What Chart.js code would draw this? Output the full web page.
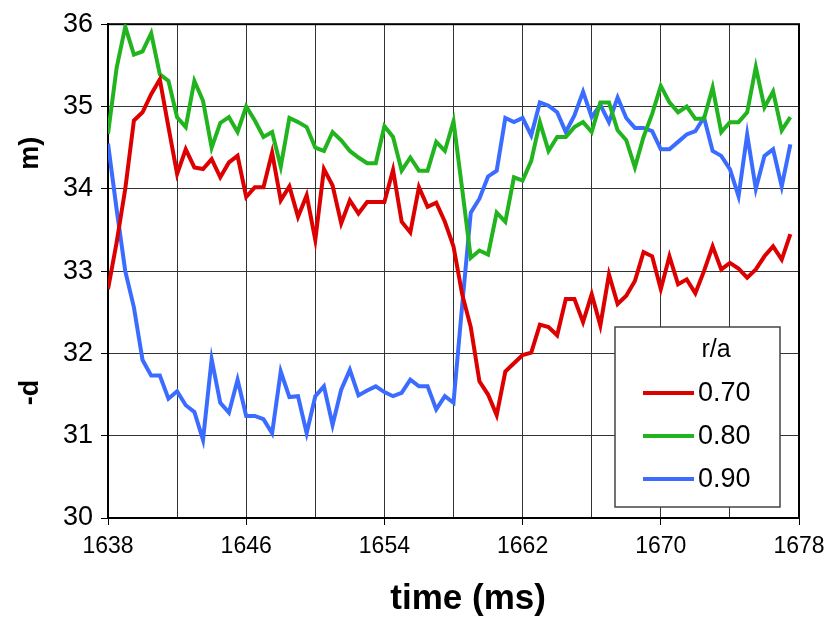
<!DOCTYPE html>
<html>
<head>
<meta charset="utf-8">
<title>-d vs time</title>
<script src="https://cdn.jsdelivr.net/npm/chart.js@4.4.0/dist/chart.umd.min.js"></script>
<style>
  html, body { margin: 0; padding: 0; background: #fff; }
</style>
</head>
<body>
<canvas id="grafica" width="837" height="618"></canvas>
<script>
// Tiempos de muestreo (ms), cada 0.5 ms
const tiempos = [
  1638, 1638.5, 1639, 1639.5, 1640, 1640.5, 1641, 1641.5, 1642, 1642.5,
  1643, 1643.5, 1644, 1644.5, 1645, 1645.5, 1646, 1646.5, 1647, 1647.5,
  1648, 1648.5, 1649, 1649.5, 1650, 1650.5, 1651, 1651.5, 1652, 1652.5,
  1653, 1653.5, 1654, 1654.5, 1655, 1655.5, 1656, 1656.5, 1657, 1657.5,
  1658, 1658.5, 1659, 1659.5, 1660, 1660.5, 1661, 1661.5, 1662, 1662.5,
  1663, 1663.5, 1664, 1664.5, 1665, 1665.5, 1666, 1666.5, 1667, 1667.5,
  1668, 1668.5, 1669, 1669.5, 1670, 1670.5, 1671, 1671.5, 1672, 1672.5,
  1673, 1673.5, 1674, 1674.5, 1675, 1675.5, 1676, 1676.5, 1677, 1677.5
];

// -d para cada radio normalizado
const r070 = [
  32.78, 33.35, 34.00, 34.83, 34.93, 35.15, 35.33, 34.75, 34.18, 34.48,
  34.26, 34.24, 34.36, 34.14, 34.32, 34.40, 33.90, 34.02, 34.02, 34.44,
  33.86, 34.03, 33.66, 33.92, 33.38, 34.24, 34.04, 33.58, 33.86, 33.70,
  33.84, 33.84, 33.84, 34.23, 33.60, 33.47, 34.02, 33.78, 33.83, 33.60,
  33.30, 32.72, 32.32, 31.66, 31.50, 31.25, 31.78, 31.88, 31.98, 32.01,
  32.35, 32.32, 32.22, 32.66, 32.66, 32.38, 32.72, 32.34, 32.96, 32.60,
  32.70, 32.88, 33.23, 33.18, 32.78, 33.18, 32.84, 32.90, 32.73, 33.00,
  33.30, 33.02, 33.10, 33.03, 32.92, 33.02, 33.18, 33.30, 33.14, 33.45
];
const r080 = [
  34.67, 35.47, 35.97, 35.63, 35.67, 35.89, 35.39, 35.31, 34.87, 34.75,
  35.31, 35.07, 34.50, 34.80, 34.87, 34.69, 35.00, 34.83, 34.63, 34.69,
  34.27, 34.86, 34.81, 34.75, 34.50, 34.46, 34.69, 34.59, 34.46, 34.38,
  34.31, 34.31, 34.76, 34.63, 34.22, 34.38, 34.22, 34.22, 34.57, 34.46,
  34.82, 34.00, 33.16, 33.25, 33.20, 33.71, 33.60, 34.14, 34.10, 34.34,
  34.81, 34.46, 34.63, 34.63, 34.75, 34.81, 34.69, 35.05, 35.05, 34.71,
  34.59, 34.26, 34.63, 34.91, 35.25, 35.05, 34.93, 35.00, 34.85, 34.85,
  35.23, 34.69, 34.81, 34.81, 34.93, 35.48, 34.99, 35.18, 34.71, 34.87
];
const r090 = [
  34.55, 33.75, 33.00, 32.56, 31.92, 31.73, 31.73, 31.45, 31.54, 31.37,
  31.29, 30.95, 31.93, 31.40, 31.28, 31.68, 31.24, 31.24, 31.20, 31.03,
  31.78, 31.47, 31.48, 31.03, 31.48, 31.60, 31.13, 31.56, 31.80, 31.49,
  31.55, 31.60, 31.53, 31.48, 31.52, 31.68, 31.60, 31.60, 31.32, 31.48,
  31.40, 32.58, 33.71, 33.88, 34.15, 34.22, 34.86, 34.81, 34.86, 34.65,
  35.05, 35.01, 34.93, 34.69, 34.89, 35.18, 34.87, 35.02, 34.81, 35.11,
  34.86, 34.74, 34.74, 34.70, 34.48, 34.48, 34.57, 34.66, 34.70, 34.87,
  34.46, 34.40, 34.24, 33.91, 34.66, 34.00, 34.40, 34.48, 34.03, 34.54
];

const etiquetas = ['0.70', '0.80', '0.90'];
const colores = ['#dd0000', '#22b41e', '#3a6cff'];
const tituloLeyenda = 'r/a';

const fuente = '"Liberation Sans", Arial, Helvetica, sans-serif';

// Marco negro alrededor del área de la gráfica
const marco = {
  id: 'marco',
  beforeDatasetsDraw(chart) {
    const { ctx, chartArea: a } = chart;
    ctx.save();
    ctx.strokeStyle = '#000';
    ctx.lineWidth = 2;
    ctx.strokeRect(a.left, a.top, a.right - a.left, a.bottom - a.top);
    ctx.restore();
  }
};

// Leyenda dentro de la gráfica, abajo a la derecha
const leyenda = {
  id: 'leyenda',
  afterDatasetsDraw(chart) {
    const c = chart.ctx;
    c.save();
    c.fillStyle = '#fff';
    c.fillRect(615, 327, 165, 180);
    c.strokeStyle = '#444';
    c.lineWidth = 1.5;
    c.strokeRect(615, 327, 165, 180);

    c.fillStyle = '#000';
    c.textBaseline = 'middle';
    c.textAlign = 'center';
    c.font = '25px ' + fuente;
    c.fillText(tituloLeyenda, 716, 350);

    c.textAlign = 'left';
    c.font = '27px ' + fuente;
    chart.data.datasets.forEach((ds, i) => {
      const y = 393 + i * 43;
      c.strokeStyle = ds.borderColor;
      c.lineWidth = 4;
      c.beginPath();
      c.moveTo(643, y);
      c.lineTo(694, y);
      c.stroke();
      c.fillStyle = '#000';
      c.fillText(ds.label, 698, y + 1);
    });
    c.restore();
  }
};

const series = [r070, r080, r090];
const datasets = series.map((datos, i) => ({
  label: etiquetas[i],
  data: datos,
  borderColor: colores[i],
  backgroundColor: colores[i],
  borderWidth: 4,
  pointRadius: 0,
  tension: 0,
  fill: false
}));

const ctx = document.getElementById('grafica').getContext('2d');
const grafica = new Chart(ctx, {
  type: 'line',
  data: { labels: tiempos, datasets: datasets },
  options: {
    responsive: false,
    animation: false,
    layout: { padding: { top: 19, right: 38, left: 0, bottom: 0 } },
    plugins: {
      legend: { display: false },
      tooltip: { enabled: false }
    },
    scales: {
      x: {
        type: 'linear',
        min: 1638,
        max: 1678,
        afterFit: s => { s.height = 100; },
        ticks: {
          stepSize: 4,
          autoSkip: false,
          maxRotation: 0,
          padding: 8,
          color: '#000',
          font: { family: fuente, size: 23 },
          callback: v => ((v - 1638) % 8 === 0 ? String(v) : '')
        },
        grid: {
          color: '#333',
          lineWidth: 1,
          tickLength: 7,
          tickColor: c => ((c.tick.value - 1638) % 8 === 0 ? '#000' : 'rgba(0,0,0,0)')
        },
        border: { color: '#000', width: 2 },
        title: {
          display: true,
          text: '   time (ms)',
          color: '#000',
          font: { family: fuente, size: 35, weight: 'bold', lineHeight: 1 },
          padding: { top: 0, bottom: 1 }
        }
      },
      y: {
        min: 30,
        max: 36,
        afterFit: s => { s.width = 108; },
        ticks: {
          stepSize: 1,
          padding: 8,
          color: '#000',
          font: { family: fuente, size: 27 }
        },
        grid: {
          color: '#333',
          lineWidth: 1,
          tickLength: 7,
          tickColor: '#000'
        },
        border: { color: '#000', width: 2 },
        title: {
          display: true,
          text: '-d' + ' '.repeat(28) + 'm)',
          color: '#000',
          font: { family: fuente, size: 27, weight: 'bold', lineHeight: 1.2 },
          padding: { top: 14, bottom: 0 }
        }
      }
    }
  },
  plugins: [marco, leyenda]
});
</script>
</body>
</html>
